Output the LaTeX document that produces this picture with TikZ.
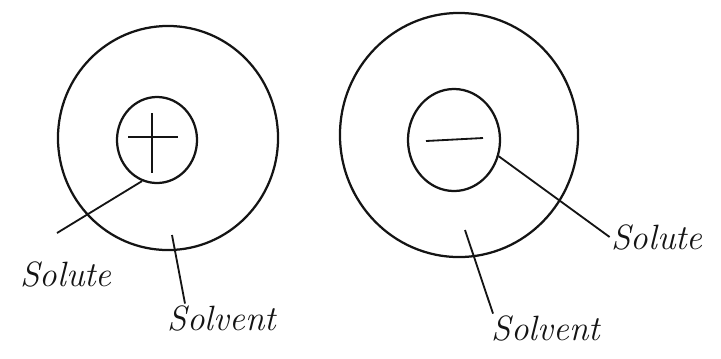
\documentclass[tikz,border=0pt]{standalone}
\usepackage{tikz}
\usetikzlibrary{shapes.geometric}
\definecolor{ink}{RGB}{20,20,20}
\tikzset{
  shell/.style={ellipse, draw=ink, line width=1.6pt, inner sep=0pt},
  lead/.style={draw=ink, line width=1.3pt},
  tag/.style={font=\fontsize{25}{27}\selectfont\itshape, text=ink, inner sep=1pt},
}
\begin{document}
\begin{tikzpicture}[x=0.025cm, y=-0.025cm]
  \useasboundingbox (0,0) rectangle (721,358);
  % cation with its solvent shell
  \node[shell, minimum width=5.5cm, minimum height=5.6cm] (outL) at (168,138) {};
  \node[shell, minimum width=2.0cm, minimum height=2.15cm] (inL) at (157,140) {};
  \draw[lead] (128,137) -- (178,137);
  \draw[lead] (152,113) -- (152,173);
  \node[tag] (soluteL) at (66,274) {Solute};
  \node[tag] (solventL) at (222,318) {Solvent};
  \coordinate (endL) at (57,233);
  \coordinate (startVL) at (172,235);
  \draw[lead] (inL.250) -- (endL);
  \draw[lead] (startVL) -- (solventL.north west -| 185,0);
  % anion with its solvent shell
  \node[shell, minimum width=5.95cm, minimum height=6.1cm] (outR) at (459,135) {};
  \node[shell, minimum width=2.3cm, minimum height=2.55cm] (inR) at (454,140) {};
  \draw[lead] (426,141) -- (483,138);
  \node[tag] (soluteR) at (657,237) {Solute};
  \node[tag] (solventR) at (546,328) {Solvent};
  \coordinate (startVR) at (465,230);
  \draw[lead] (inR.-20) -- (soluteR.west);
  \draw[lead] (startVR) -- (solventR.north west -| 493,0);
\end{tikzpicture}
\end{document}
